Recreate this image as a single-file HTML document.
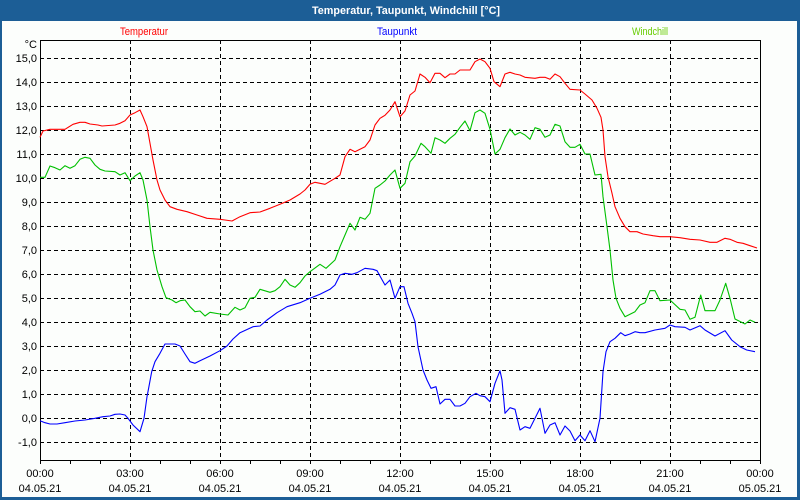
<!DOCTYPE html>
<html><head><meta charset="utf-8"><style>
html,body{margin:0;padding:0;background:#fff;}
svg{display:block;}
text{font-family:"Liberation Sans",sans-serif;font-size:11px;}
</style></head><body>
<svg width="800" height="500" viewBox="0 0 800 500" xmlns="http://www.w3.org/2000/svg">
<rect x="0" y="0" width="800" height="500" fill="#1c5e96"/>
<rect x="2" y="21" width="795" height="476" fill="#fcfefc"/>
<text x="406" y="14" fill="#ffffff" font-weight="bold" text-anchor="middle" textLength="188" lengthAdjust="spacingAndGlyphs">Temperatur, Taupunkt, Windchill [°C]</text>
<text x="120" y="35" fill="#ff0000" textLength="48" lengthAdjust="spacingAndGlyphs">Temperatur</text>
<text x="377" y="35" fill="#0000ff" textLength="40" lengthAdjust="spacingAndGlyphs">Taupunkt</text>
<text x="632" y="35" fill="#66cc00" textLength="36" lengthAdjust="spacingAndGlyphs">Windchill</text>
<g stroke="#000" stroke-width="1" stroke-dasharray="4 3" fill="none" shape-rendering="crispEdges">
<path d="M40 58.5H760M40 82.5H760M40 106.5H760M40 130.5H760M40 154.5H760M40 178.5H760M40 202.5H760M40 226.5H760M40 250.5H760M40 274.5H760M40 298.5H760M40 322.5H760M40 346.5H760M40 370.5H760M40 394.5H760M40 418.5H760M40 442.5H760"/>
<path d="M130.5 40V460M220.5 40V460M310.5 40V460M400.5 40V460M490.5 40V460M580.5 40V460M670.5 40V460"/>
</g>
<g stroke="#000" stroke-width="1" fill="none" shape-rendering="crispEdges">
<rect x="40.5" y="40.5" width="720" height="420"/>
<path d="M40.5 460V464M70.5 460V464M100.5 460V464M130.5 460V464M160.5 460V464M190.5 460V464M220.5 460V464M250.5 460V464M280.5 460V464M310.5 460V464M340.5 460V464M370.5 460V464M400.5 460V464M430.5 460V464M460.5 460V464M490.5 460V464M520.5 460V464M550.5 460V464M580.5 460V464M610.5 460V464M640.5 460V464M670.5 460V464M700.5 460V464M730.5 460V464M760.5 460V464"/>
</g>
<g fill="#000" text-anchor="end">
<text x="37" y="48">°C</text>
<text x="37" y="62">15,0</text>
<text x="37" y="86">14,0</text>
<text x="37" y="110">13,0</text>
<text x="37" y="134">12,0</text>
<text x="37" y="158">11,0</text>
<text x="37" y="182">10,0</text>
<text x="37" y="206">9,0</text>
<text x="37" y="230">8,0</text>
<text x="37" y="254">7,0</text>
<text x="37" y="278">6,0</text>
<text x="37" y="302">5,0</text>
<text x="37" y="326">4,0</text>
<text x="37" y="350">3,0</text>
<text x="37" y="374">2,0</text>
<text x="37" y="398">1,0</text>
<text x="37" y="422">0,0</text>
<text x="37" y="446">-1,0</text>
</g>
<g fill="#000" text-anchor="middle">
<text x="40" y="477">00:00</text><text x="40" y="492">04.05.21</text>
<text x="130" y="477">03:00</text><text x="130" y="492">04.05.21</text>
<text x="220" y="477">06:00</text><text x="220" y="492">04.05.21</text>
<text x="310" y="477">09:00</text><text x="310" y="492">04.05.21</text>
<text x="400" y="477">12:00</text><text x="400" y="492">04.05.21</text>
<text x="490" y="477">15:00</text><text x="490" y="492">04.05.21</text>
<text x="580" y="477">18:00</text><text x="580" y="492">04.05.21</text>
<text x="670" y="477">21:00</text><text x="670" y="492">04.05.21</text>
<text x="760" y="477">00:00</text><text x="760" y="492">05.05.21</text>
</g>
<g fill="none" stroke-width="1.1" stroke-linejoin="round">
<polyline stroke="#ff0000" points="40,137.3 43,131 50,129.3 65,129.3 73,124.3 80,122.3 85,122.3 90,124 98,125 102,126 115,125 120,123.3 125,120.7 130,115 135,112.7 140,110 143,116.7 147,126.7 150,143.3 153,160 157,180 160,190 165,200 170,206.7 177,209.3 187,211.7 197,215 207,218.3 220,219.3 225,220 232,221 240,216.7 250,212.7 260,212 270,208.3 280,204.3 290,200 300,194 305,190 310,184.3 315,182.3 325,184.3 335,178.3 340,175 345,156.7 350,149.3 355,151.7 365,146.7 370,140 375,125 380,118.3 385,115.3 390,110 395,101.7 400,116.7 405,111 410,95 415,91 420,74 425,77.3 430,82.7 435,73.3 440,73.3 445,77.7 450,74 455,74 460,70 465,70 470,70 475,61.7 480,59 485,61.7 490,68.3 494,81.7 500,86.7 505,74 510,72.3 515,74 520,75 525,77.3 535,78.3 540,77.3 545,77.3 550,79.3 555,74 560,76.7 565,83.3 570,89.3 580,90 585,94 592,100 597,108.3 601,117.3 603,130 605,156.7 608,176.7 612,193.3 615,206.7 620,218.3 625,226.7 630,231.7 637,231.7 643,234 653,235.7 660,236.7 670,236.7 680,237.7 690,239.3 700,240 710,242.3 717,242.3 725,238.3 730,239.3 737,242.3 743,243.3 750,245.7 757,248"/>
<polyline stroke="#00c000" points="40,177.3 45,177.3 50,166 55,167.7 60,170 65,165.7 70,168.3 75,165.7 80,159.3 85,157.3 90,158.3 95,165 100,169.3 105,171 115,171.7 120,175 125,172.7 130,180.7 135,176 140,172.7 143,180 147,200 150,226.7 153,250 157,270 162,286.7 166,297.7 172,300 176,302.7 180,300.7 185,300 190,306.7 195,311.7 200,311 205,316 210,312.3 220,314 228,315 235,307.3 240,310 245,307.7 250,298.3 255,297.3 260,289.3 270,292.3 275,290.7 280,286.7 285,279.3 290,285 295,287.3 300,282.7 305,276 310,271.7 320,264.3 326,268.3 335,260 340,246.7 345,235 350,223.3 355,230 360,217.3 365,219.3 370,213.3 375,188.3 380,185 385,181 390,175 395,170 400,188.3 405,183.3 410,161.7 415,156 421,143.3 425,146.7 431,153.3 435,137.7 440,140 445,143.3 450,138.3 455,134.3 460,127.3 465,121 470,130.7 475,112.7 480,110 485,113.3 490,129.3 495,154 500,149.3 505,137.7 510,129 515,135 520,132.3 525,135 530,139.3 535,127.7 540,129.3 545,137.3 550,135 555,124.3 560,126 565,141.7 570,147.3 575,147.3 580,144.3 585,154 590,154 595,175 601,174.3 603,196.7 607,226.7 610,250 613,280 616,298.3 620,308.3 625,316.7 635,311.7 640,305 645,302.7 650,290.7 655,290.7 660,300.7 670,300 680,309.3 685,310 690,319.3 695,317.3 700.7,295 705,310.7 715,310.7 720,300 725.7,283.3 730,298.3 735,319 745,324 750,320 755,322.3"/>
<polyline stroke="#0000ff" points="40,420.7 45,422.7 50,424 57,424 65,422.7 75,421 85,420 95,418.3 103,416.7 110,416 115,414.3 120,414 125,415 128,418.3 133,425 140,431.7 144,418.3 147,396.7 148.3,390 151.7,371.7 155,361.7 160,353.3 165,344 175,344 180,346 185,354 190,361.7 195,363.3 200,360.7 210,356 220,350.7 227,346 233,339 240,332.7 253,326.7 260,326 267,320 277,312.7 287,306.7 300,302.7 310,298.3 320,294.3 330,289.3 335,285 340,275 345,273.3 352,274.3 357,272.7 365,268.3 373,269.3 377,270.7 385,285 390,280 395,298.3 400,286.7 404,286.7 408,303.3 412,313.3 415,321.7 418,346.7 423,370 427,380 431,388.3 436,386.7 440,404 445,399.3 450,399.3 455,406 460,406 465,403.3 470,396.7 476,393.3 480,395.7 485,396.7 490,401.7 495,383.3 500,370.7 502,380 505,413.3 510,407.7 515,409.3 520,430 525,426.7 530,428.3 535,418.3 540,408.3 545,433.3 550,425 555,422.7 560,435 565,426 570,431 575,440.7 580,435 585,440.7 590,430.7 595,441.7 600,418.3 603,371.7 606,351.7 610,341.7 615,338.3 620.7,332.7 625,335.7 630,334 635,331.7 640,332.7 645,332.7 655,330 665,328.3 670,325 675,326.7 685,327.3 690,330 700,325.7 705,330 715,336 725,330.7 731.7,340 740,346.7 746.7,350 755,351.7"/>
</g>
</svg>
</body></html>
